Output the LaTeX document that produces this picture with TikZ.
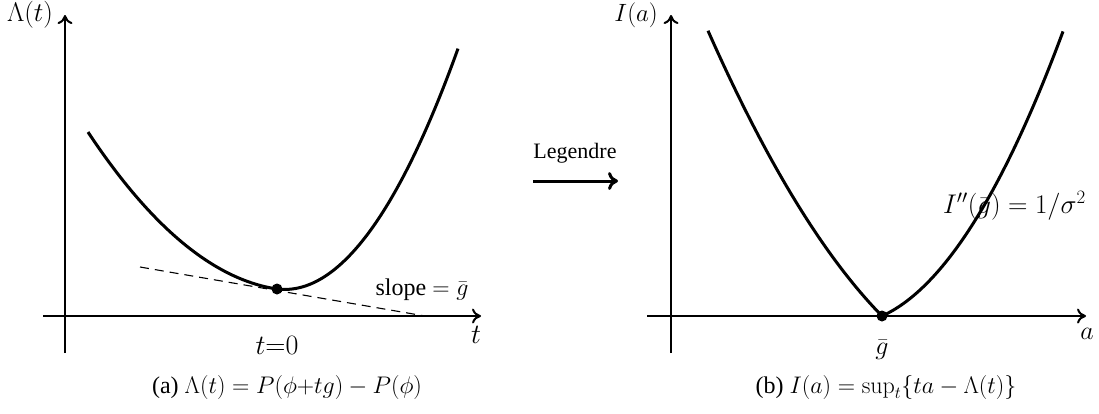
\RequirePackage{fix-cm}
\documentclass[tikz,border=0pt]{standalone}
\usepackage[no-math]{fontspec}
\setmainfont{Liberation Serif}
\usetikzlibrary{arrows.meta}
\begin{document}
\begin{tikzpicture}[x=1pt,y=-1pt,
  font=\fontsize{24}{29}\selectfont,
  axis/.style={line width=2pt,-{To[length=9pt,width=15pt]}},
  curve/.style={line width=3pt},
  tangent/.style={line width=1.1pt,dash pattern=on 9pt off 6pt},
  pt/.style={circle,fill=black,inner sep=0pt,minimum size=11pt},
  lbl/.style={inner sep=0pt},
  biglbl/.style={inner sep=0pt,font=\fontsize{28}{33}\selectfont}]
\useasboundingbox (0,0) rectangle (1099,413);

% ---------- panel (a) ----------
\coordinate (ayb) at (65,353);
\coordinate (ayt) at (65,15);
\coordinate (axl) at (43,316);
\coordinate (axr) at (481,316);
\draw[axis] (ayb) -- (ayt);
\draw[axis] (axl) -- (axr);
\coordinate (ta) at (140,267);
\coordinate (tb) at (425,316);
\draw[tangent] (ta) -- (tb);
\draw[curve] plot[domain=-189:0,samples=70] ({277+\x},{289-(0.15*abs(\x)+0.36*(\x/10)*(\x/10))})
  -- plot[domain=0:181,samples=70] ({277+\x},{289-(-0.12*\x+0.8*(\x/10)*(\x/10))});
\node[pt] (dota) at (277,289) {};
\node[lbl,anchor=base,font=\fontsize{27}{32}\selectfont] (Lam) at (30,21) {$\Lambda(t)$};
\node[biglbl,anchor=base] (tlab) at (476,343) {$t$};
\node[biglbl,anchor=base] (t0) at (277,354) {$t{=}0$};
\node[lbl,anchor=base] (slope) at (422,295) {slope $=\bar g$};
\node[lbl,anchor=base] (capa) at (287,393) {(a) $\Lambda(t)=P(\phi{+}tg)-P(\phi)$};

% ---------- Legendre arrow ----------
\node[lbl,anchor=base,font=\fontsize{22}{26}\selectfont] (leg) at (575,158) {Legendre};
\coordinate (la) at (533,181);
\coordinate (lb) at (618,181);
\draw[line width=3pt,-{To[length=10pt,width=18pt]}] (la) -- (lb);

% ---------- panel (b) ----------
\coordinate (byb) at (671,353);
\coordinate (byt) at (671,15);
\coordinate (bxl) at (647,316);
\coordinate (bxr) at (1086,316);
\draw[axis] (byb) -- (byt);
\draw[axis] (bxl) -- (bxr);
\draw[curve] plot[domain=-174:0,samples=70] ({882+\x},{316-(1.02*abs(\x)+0.356*(\x/10)*(\x/10))})
  -- plot[domain=0:181,samples=70] ({882+\x},{316-(0.45*\x+0.62*(\x/10)*(\x/10))});
\node[pt] (dotb) at (882,316) {};
\node[lbl,anchor=base east,font=\fontsize{25}{30}\selectfont] (Ia) at (658,21) {$I(a)$};
\node[lbl,anchor=base,font=\fontsize{26}{31}\selectfont] (alab) at (1087,339) {$a$};
\node[lbl,anchor=base,font=\fontsize{26}{31}\selectfont] (gbar) at (882,354) {$\bar g$};
\node[lbl,anchor=base west,font=\fontsize{27}{32}\selectfont] (curv) at (943,213) {$I''(\bar g)=1/\sigma^2$};
\node[lbl,anchor=base] (capb) at (886,393) {(b) $I(a)=\sup_t\{ta-\Lambda(t)\}$};
\end{tikzpicture}
\end{document}
